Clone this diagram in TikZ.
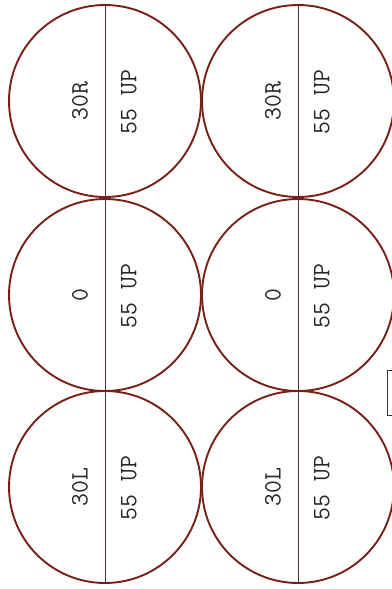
\documentclass[tikz,border=0pt]{standalone}
\usepackage{fontspec}
\definecolor{ring}{RGB}{120,32,22}
\definecolor{axis}{RGB}{70,45,65}
\begin{document}
\begin{tikzpicture}[x=1pt,y=-1pt,
  disc/.style={circle,draw=ring,line width=1.9pt,minimum size=192pt,inner sep=0pt},
  lbl/.style={rotate=90,font=\ttfamily\fontsize{25}{27}\selectfont,text=black!85,inner sep=0pt},
  mid/.style={draw=axis,line width=0.9pt}]
\useasboundingbox (0,0) rectangle (391,589);
\foreach \col/\cx in {a/105,b/298}{
  \foreach \row/\cy/\t in {1/101/30R,2/295/0,3/487/30L}{
    \node[disc] (c\col\row) at (\cx,\cy) {};
    \draw[mid] (c\col\row.north) -- (c\col\row.south);
    \node[lbl] (t\col\row) at (\cx-25,\cy) {\t};
    \node[lbl] (u\col\row) at (\cx+24,\cy+1) {55 UP};
  }
}
\draw[line width=1pt,black!80] (387,370) rectangle (396,415);
\end{tikzpicture}
\end{document}
